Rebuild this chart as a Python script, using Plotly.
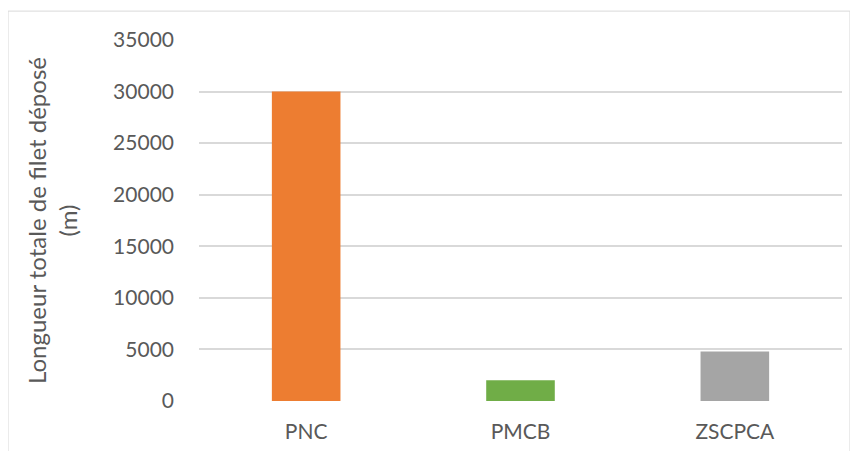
import plotly.graph_objects as go

categories = ["PNC", "PMCB", "ZSCPCA"]
values = [30000, 2000, 4800]
colors = ["#ED7D31", "#70AD47", "#A5A5A5"]
y_ticks = [0, 5000, 10000, 15000, 20000, 25000, 30000, 35000]
y_title = "Longueur totale de filet déposé<br>(m)"

font_family = "Lato, 'Open Sans', sans-serif"
text_color = "#595959"

# page has an 8px body margin; figure sized to fit the 858x459 window
fig = go.Figure(go.Bar(
    x=categories, y=values, marker_color=colors, marker_line_width=0,
    width=0.32,
))

fig.update_layout(
    width=842, height=443,
    margin=dict(l=191, r=8, t=32, b=48),
    paper_bgcolor="white", plot_bgcolor="white",
    font=dict(family=font_family, size=21, color=text_color),
    showlegend=False,
    xaxis=dict(showgrid=False, showline=False, zeroline=False,
               ticks="", ticklabelstandoff=16,
               tickfont=dict(size=21, color=text_color)),
    yaxis=dict(range=[0, 35000], tickvals=y_ticks,
               ticktext=[str(v) for v in y_ticks],
               showgrid=True, gridcolor="#D9D9D9", gridwidth=1.5,
               zeroline=False, showline=False, ticks="",
               ticklabelstandoff=24,
               tickfont=dict(size=21, color=text_color),
               title=dict(text=y_title, standoff=28,
                          font=dict(size=24, color=text_color))),
    shapes=[dict(type="rect", xref="paper", yref="paper",
                 x0=-0.297, x1=1.0124, y0=-0.2, y1=1.08,
                 line=dict(color="#D9D9D9", width=1), fillcolor="rgba(0,0,0,0)",
                 layer="below")],
)

fig.write_html("out.html")
